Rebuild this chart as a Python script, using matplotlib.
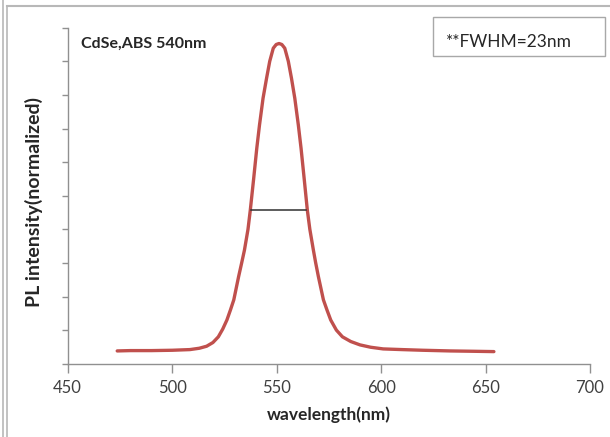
import matplotlib
matplotlib.use("Agg")
import matplotlib.pyplot as plt
from matplotlib.lines import Line2D
from matplotlib.patches import Rectangle

plt.rcParams['font.family'] = ['Lato', 'DejaVu Sans']

wavelength = [473.7, 480, 490, 500, 508.5, 513, 516.5, 519.5, 522.1, 524.2, 526.2,
              527.9, 529.5, 531.8, 533.2, 534.6, 536.3, 537.4, 539.0, 540.5, 541.8,
              543.5, 545.2, 546.7, 548.4, 549.8, 551.15, 552.5, 553.9, 555.6, 557.1,
              558.7, 560.4, 561.7, 563.2, 564.7, 565.9, 567.6, 568.7, 570.0, 572.4,
              574.1, 575.9, 578.6, 581.5, 585.5, 589.9, 595, 601, 610, 620, 633, 644, 654]
intensity = [0.038, 0.039, 0.039, 0.040, 0.042, 0.046, 0.052, 0.063, 0.080, 0.103, 0.130,
             0.160, 0.190, 0.259, 0.298, 0.338, 0.400, 0.457, 0.550, 0.641, 0.710,
             0.790, 0.850, 0.900, 0.939, 0.950, 0.953, 0.950, 0.939, 0.900, 0.850,
             0.790, 0.710, 0.641, 0.550, 0.457, 0.400, 0.338, 0.300, 0.259, 0.190,
             0.160, 0.130, 0.100, 0.080, 0.066, 0.056, 0.049, 0.044, 0.042, 0.040, 0.038, 0.037, 0.036]
fwhm_x = [537.8, 564.3]
fwhm_y = [0.457, 0.457]
x_ticks = [450, 500, 550, 600, 650, 700]
y_ticks = [0.0, 0.1, 0.2, 0.3, 0.4, 0.5, 0.6, 0.7, 0.8, 0.9, 1.0]

W, H = 610, 437
fig = plt.figure(figsize=(W / 100, H / 100), dpi=100)
ax = fig.add_axes([67.7 / W, (H - 363.7) / H, (590 - 67.7) / W, (363.7 - 27.7) / H])

ax.plot(wavelength, intensity, color='#c0504d', lw=2.4, solid_joinstyle='round',
        solid_capstyle='round')
ax.plot(fwhm_x, fwhm_y, color='#303030', lw=1.1)

ax.set_xlim(450, 700)
ax.set_ylim(0, 1)
ax.set_xticks(x_ticks)
ax.set_yticks(y_ticks)
ax.set_yticklabels([])
for s in ['top', 'right']:
    ax.spines[s].set_visible(False)
for s in ['left', 'bottom']:
    ax.spines[s].set_color('#909090')
    ax.spines[s].set_linewidth(1.0)
ax.tick_params(axis='x', direction='out', length=6.5, width=1.0, color='#909090',
               labelsize=12, labelcolor='#404040', pad=5)
ax.tick_params(axis='y', direction='out', length=4, width=1.0, color='#909090')

ax.set_xlabel('wavelength(nm)', fontsize=12.5, fontweight='bold', color='#262626', labelpad=8)
ax.set_ylabel('PL intensity(normalized)', fontsize=14, fontweight='bold', color='#262626')
ax.yaxis.set_label_coords(-0.048, 0.481)

ax.text(456.5, 0.951, 'CdSe,ABS 540nm', fontsize=11.5, fontweight='bold', color='#262626',
        va='center', ha='left')

# FWHM box in figure coords
fig.add_artist(Rectangle((432.7 / W, (H - 55.7) / H), 172.6 / W, 38.4 / H,
                         transform=fig.transFigure, fill=False, edgecolor='#a8a8a8', lw=1.0))
fig.text(446 / W, (H - 41.7) / H, '**FWHM=23nm', fontsize=12.5, color='#262626',
         va='center', ha='left')

# outer frame lines
fc = '#b8b8b8'
fig.add_artist(Line2D([3 / W, 3 / W], [0, 1], transform=fig.transFigure, color=fc, lw=1.2))
fig.add_artist(Line2D([7 / W, 7 / W], [0, (H - 5.5) / H], transform=fig.transFigure, color=fc, lw=1.2))
fig.add_artist(Line2D([7 / W, 1], [(H - 5.5) / H, (H - 5.5) / H], transform=fig.transFigure, color=fc, lw=1.5))

fig.savefig('out.png', dpi=100)
